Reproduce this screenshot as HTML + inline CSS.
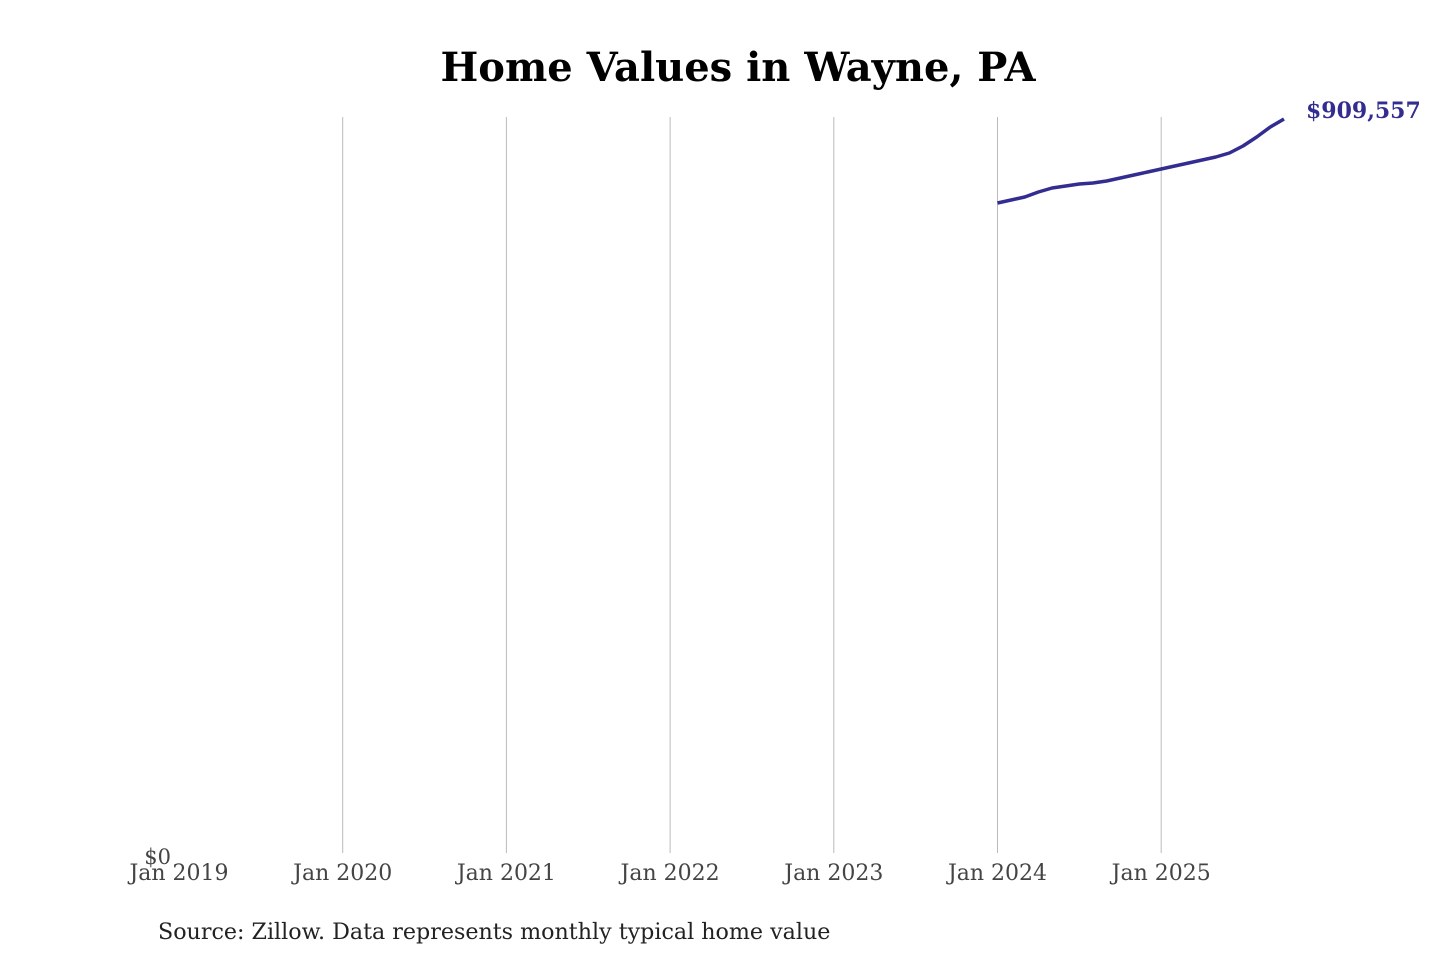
<!DOCTYPE html>
<html><head><meta charset="utf-8"><style>
body{margin:0;background:#fff;width:1440px;height:960px;overflow:hidden}
svg text{font-family:"DejaVu Serif","Liberation Serif",serif}
</style></head><body>
<svg width="1440" height="960">
<text x="738" y="81" text-anchor="middle" font-size="40" font-weight="bold" fill="#000">Home Values in Wayne, PA</text>
<g id="grid"></g>
<g id="xt"></g>
<text x="171" y="864" text-anchor="end" font-size="21" fill="#444">$0</text>
<path id="line" fill="none" stroke="#332d91" stroke-width="3.5" stroke-linejoin="round"></path>
<text id="endlbl" font-size="22" font-weight="bold" fill="#332d91"></text>
<text x="158" y="939" font-size="22.2" fill="#222">Source: Zillow. Data represents monthly typical home value</text>
</svg>
<script>
const tickYears=[2019,2020,2021,2022,2023,2024,2025];
const tickLabels=["Jan 2019","Jan 2020","Jan 2021","Jan 2022","Jan 2023","Jan 2024","Jan 2025"];
const startYear=2024, startMonth=0;
const values=[805480,809200,812900,819100,824000,826500,829000,830300,832700,836500,840200,843900,847600,851300,855000,858800,862500,867400,876100,887300,899600,909557];
const x=t=>179+(t-2019)*163.7;
const y=v=>853-v/909557*734;
const ns="http://www.w3.org/2000/svg";
const grid=document.getElementById('grid'),xt=document.getElementById('xt');
tickYears.forEach((yr,i)=>{
 if(i>0){const l=document.createElementNS(ns,'line');
 l.setAttribute('x1',x(yr));l.setAttribute('x2',x(yr));l.setAttribute('y1',117);l.setAttribute('y2',853);
 l.setAttribute('stroke','#bbb');l.setAttribute('stroke-width','1');
 
 
 grid.appendChild(l);}
 const t=document.createElementNS(ns,'text');
 t.setAttribute('x',x(yr));t.setAttribute('y',880);t.setAttribute('text-anchor','middle');
 t.setAttribute('font-size','22');t.setAttribute('fill','#444');t.textContent=tickLabels[i];
 
 
 xt.appendChild(t);
});
let d='';
values.forEach((v,i)=>{const t=startYear+(startMonth+i)/12;d+=(i?'L':'M')+x(t).toFixed(1)+','+y(v).toFixed(1);});
document.getElementById('line').setAttribute('d',d);
const last=values[values.length-1],lt=startYear+(startMonth+values.length-1)/12;
const el=document.getElementById('endlbl');
el.setAttribute('x',x(lt)+22);el.setAttribute('y',y(last)-1);
el.textContent='$'+last.toLocaleString('en-US');
</script>
</body></html>
